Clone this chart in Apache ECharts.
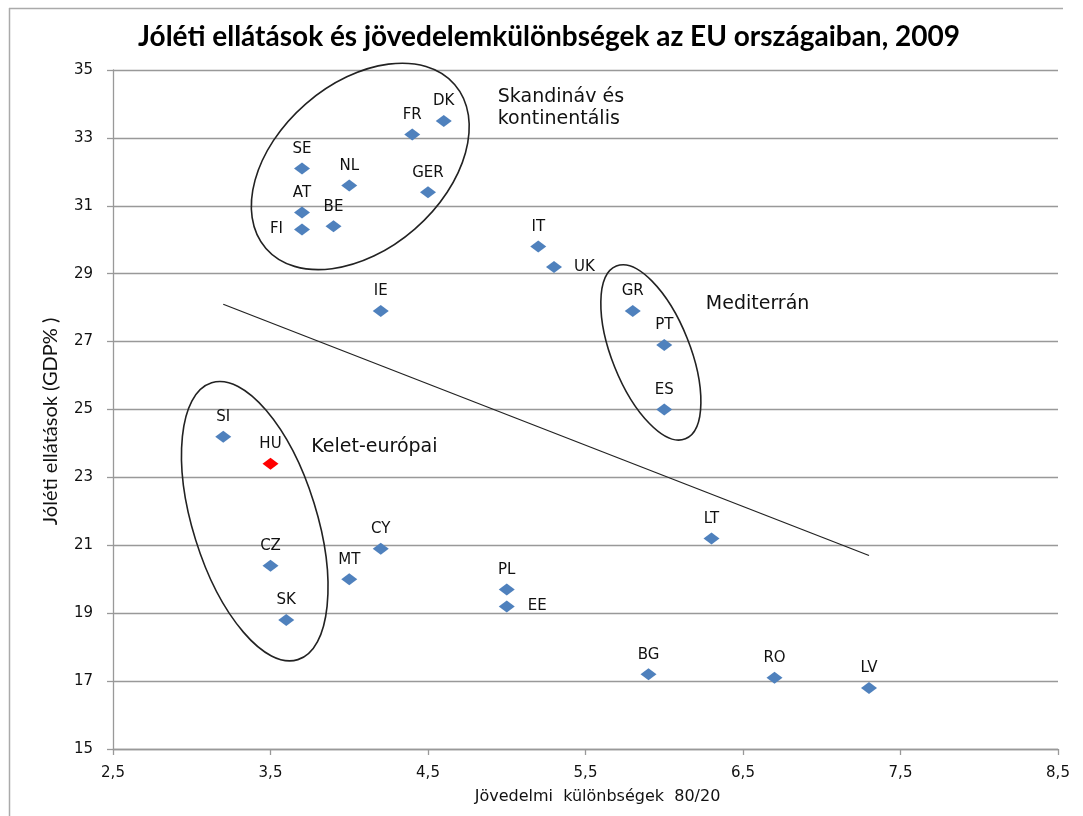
<!DOCTYPE html>
<html>
<head>
<meta charset="utf-8">
<script src="https://cdn.jsdelivr.net/npm/echarts@6/dist/echarts.min.js"></script>
<style>
html,body{margin:0;padding:0;background:#fff;}
#chart{width:1083px;height:816px;}
</style>
</head>
<body>
<div id="chart"></div>
<script>
// ---- data ----
const countries = ['SE','FR','DK','NL','GER','AT','BE','FI','IT','UK','IE','GR','PT','ES','SI','HU','CZ','SK','MT','CY','PL','EE','LT','BG','RO','LV'];
const inequality = [3.7,4.4,4.6,4.0,4.5,3.7,3.9,3.7,5.2,5.3,4.2,5.8,6.0,6.0,3.2,3.5,3.5,3.6,4.0,4.2,5.0,5.0,6.3,5.9,6.7,7.3];
const welfare = [32.1,33.1,33.5,31.6,31.4,30.8,30.4,30.3,29.8,29.2,27.9,27.9,26.9,25.0,24.2,23.4,20.4,18.8,20.0,20.9,19.7,19.2,21.2,17.2,17.1,16.8];
const trendX = [3.2, 7.3];
const trendY = [28.1, 20.7];
const xTicks = [2.5,3.5,4.5,5.5,6.5,7.5,8.5];
const yTicks = [15,17,19,21,23,25,27,29,31,33,35];
const groupNames = ['Skandináv és\nkontinentális', 'Mediterrán', 'Kelet-európai'];
const groupLabelX = [4.943, 6.264, 3.759];
const groupLabelY = [33.87, 28.10, 23.90];
const ellipseCenterX = [4.07, 5.915, 3.40];
const ellipseCenterY = [32.16, 26.68, 21.71];

// ---- styling (kept apart from data) ----
const ellipseGeom = [ {rx:125, ry:83, deg:41}, {rx:93, ry:39, deg:-68.2}, {rx:145, ry:62, deg:-72.7} ];
const labelSide = {FI:'left', UK:'right', EE:'right'};
const labelDist = {FI:11, UK:12, EE:13};
const highlight = {HU:'#FF0000'};
const labelFont = 'DejaVu Sans';

const chart = echarts.init(document.getElementById('chart'));

const pointData = countries.map((c, i) => {
  const item = { name: c, value: [inequality[i], welfare[i]] };
  if (highlight[c]) item.itemStyle = { color: highlight[c] };
  if (labelSide[c]) item.label = { position: labelSide[c], distance: labelDist[c] };
  return item;
});

const fmt = v => String(v).replace('.', ',');

chart.setOption({
  animation: false,
  backgroundColor: '#fff',
  title: {
    text: 'Jóléti ellátások és jövedelemkülönbségek az EU országaiban, 2009',
    left: 138,
    top: 23,
    padding: 0,
    textStyle: { fontFamily: 'Lato', fontWeight: 'bold', fontSize: 28, color: '#000' }
  },
  grid: { left: 113, right: 25, top: 70, bottom: 67, outerBoundsMode: 'none' },
  xAxis: {
    type: 'value', min: 2.5, max: 8.5,
    name: 'Jövedelmi  különbségek  80/20',
    nameLocation: 'middle', nameGap: 40,
    nameTextStyle: { fontFamily: labelFont, fontSize: 16, color: '#111', padding: [0, 0, 0, 24] },
    axisLine: { show: true, lineStyle: { color: '#999', width: 1.3 } },
    axisTick: { show: true, customValues: xTicks, length: 6, lineStyle: { color: '#999', width: 1.3 } },
    axisLabel: { customValues: xTicks, formatter: fmt, margin: 17, fontFamily: labelFont, fontSize: 15, color: '#111' },
    splitLine: { show: false }
  },
  yAxis: {
    type: 'value', min: 15, max: 35,
    name: 'Jóléti ellátások (GDP% )',
    nameLocation: 'middle', nameGap: 52,
    nameTextStyle: { fontFamily: 'Lato', fontSize: 20, color: '#111', padding: [0, 24, 0, 0] },
    axisLine: { show: true, lineStyle: { color: '#999', width: 1.3 } },
    axisTick: { show: true, customValues: yTicks, length: 6, lineStyle: { color: '#999', width: 1.3 } },
    axisLabel: { customValues: yTicks, margin: 20, fontFamily: labelFont, fontSize: 15, color: '#111' },
    splitLine: { show: true, lineStyle: { color: '#999', width: 1.3 } }
  },
  series: [
    {
      type: 'line',
      data: trendX.map((x, i) => [x, trendY[i]]),
      symbol: 'none',
      lineStyle: { color: '#222', width: 1.3 },
      silent: true, z: 1
    },
    {
      type: 'custom',
      data: ellipseCenterX.map((x, i) => [x, ellipseCenterY[i]]),
      renderItem: (params, api) => {
        const c = api.coord([api.value(0), api.value(1)]);
        const g = ellipseGeom[params.dataIndex];
        return {
          type: 'ellipse',
          x: c[0], y: c[1],
          rotation: g.deg * Math.PI / 180,
          shape: { cx: 0, cy: 0, rx: g.rx, ry: g.ry },
          style: { fill: 'none', stroke: '#222', lineWidth: 1.6 }
        };
      },
      silent: true, z: 2
    },
    {
      type: 'custom',
      data: groupLabelX.map((x, i) => [x, groupLabelY[i]]),
      renderItem: (params, api) => {
        const c = api.coord([api.value(0), api.value(1)]);
        return {
          type: 'text',
          x: c[0], y: c[1],
          style: {
            text: groupNames[params.dataIndex],
            fill: '#111',
            font: '19px "DejaVu Sans"',
            lineHeight: 22,
            align: 'left',
            verticalAlign: 'middle'
          }
        };
      },
      silent: true, z: 3
    },
    {
      type: 'scatter',
      data: pointData,
      symbol: 'diamond',
      symbolSize: [16, 12],
      itemStyle: { color: '#4F81BD', opacity: 1 },
      label: {
        show: true,
        position: 'top',
        distance: 6,
        formatter: p => p.name,
        fontFamily: labelFont,
        fontSize: 15,
        color: '#111'
      },
      z: 4
    }
  ],
  graphic: [
    { type: 'line', shape: { x1: 9, y1: 8.5, x2: 1063, y2: 8.5 }, style: { stroke: '#aaa', lineWidth: 1.5 } },
    { type: 'line', shape: { x1: 9.5, y1: 8, x2: 9.5, y2: 816 }, style: { stroke: '#aaa', lineWidth: 1.5 } }
  ]
});
</script>
</body>
</html>
